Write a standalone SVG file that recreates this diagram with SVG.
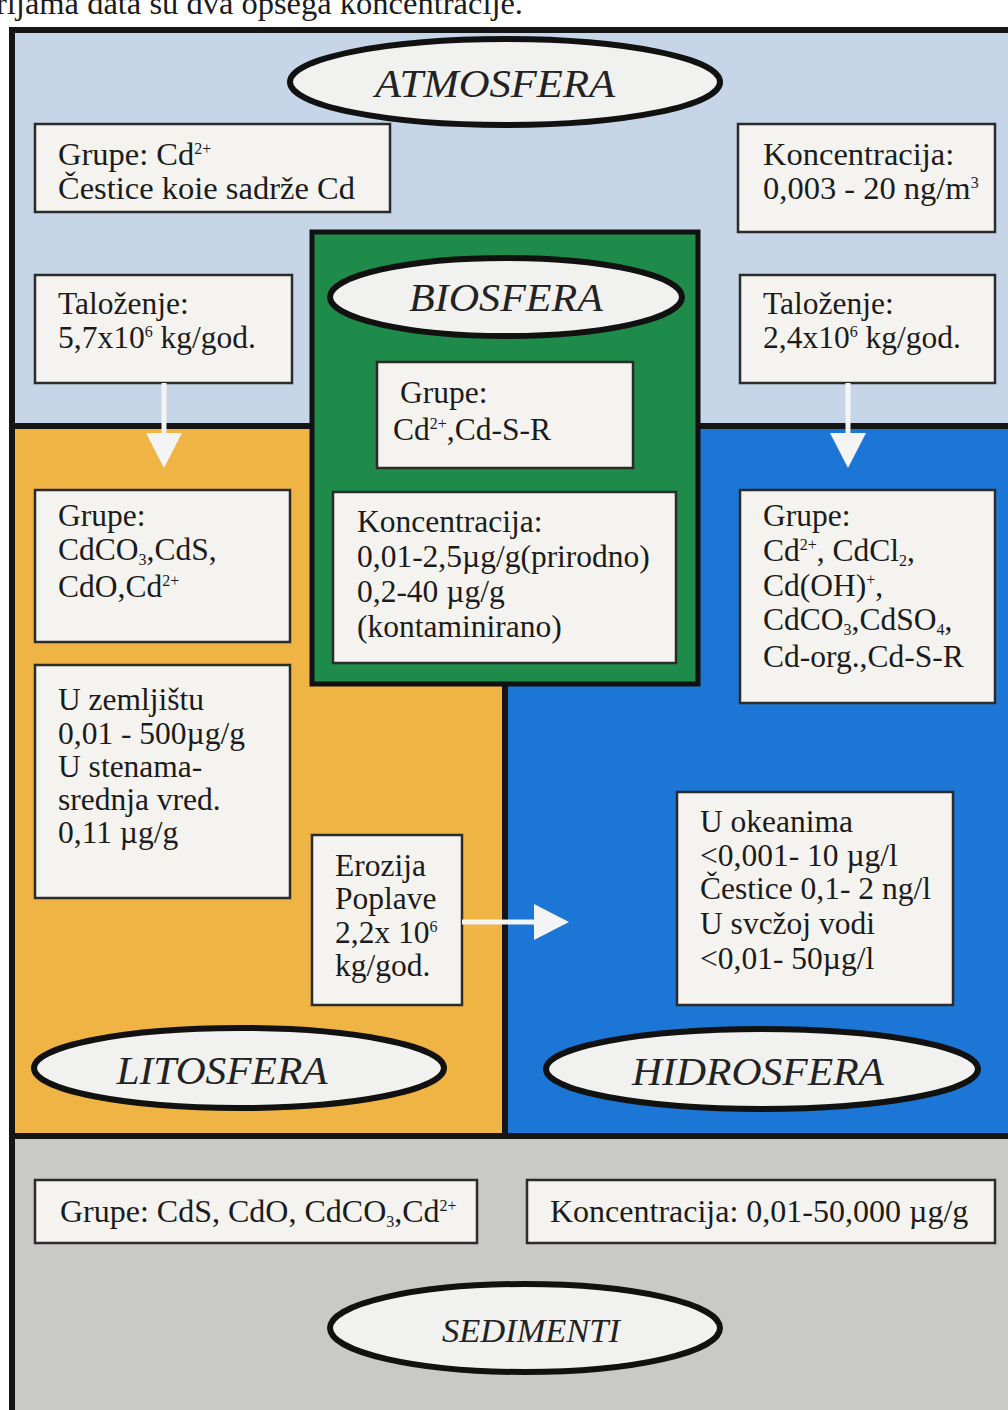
<svg xmlns="http://www.w3.org/2000/svg" width="1008" height="1410" viewBox="0 0 1008 1410">
<style>
.box{fill:#f4f3ef;stroke:#2b2b2b;stroke-width:2.5}
.t{font-family:"Liberation Serif","Times New Roman",serif;font-size:31.5px;fill:#1b1b1b}
.tb{font-size:32.5px}
.ts{font-family:"Liberation Serif","Times New Roman",serif;font-size:32px;fill:#1b1b1b}
.sup{font-size:16px}
.sub{font-size:16px}
.ell{fill:#f1f1ef;stroke:#111;stroke-width:6}
.lbl{font-family:"Liberation Serif","Times New Roman",serif;font-style:italic;font-size:40px;fill:#222;text-anchor:middle}
.frame{fill:none;stroke:#151515;stroke-width:6}
.arr{stroke:#f4f4f4;stroke-width:5;fill:none}
.head{fill:#f4f4f4}
</style>
<rect width="1008" height="1410" fill="#ffffff"/>
<text class="t" x="-4" y="14" style="font-size:32.5px">rijama data su dva opsega koncentracije.</text>

<g id="regions">
<rect x="12" y="30" width="1000" height="396" fill="#c6d5e8"/>
<rect x="12" y="426" width="493" height="710" fill="#efb444"/>
<rect x="505" y="426" width="507" height="710" fill="#1b76d6"/>
<rect x="12" y="1136" width="1000" height="280" fill="#c9c9c8"/>
<line x1="12" y1="426" x2="1012" y2="426" class="frame" stroke-width="5"/>
<line x1="505" y1="426" x2="505" y2="1136" class="frame" stroke-width="5"/>
<line x1="12" y1="1136" x2="1012" y2="1136" class="frame" stroke-width="5"/>
<rect x="12" y="30" width="1000" height="1400" class="frame"/>
</g>

<g id="biosfera">
<rect x="312" y="232" width="386" height="452" fill="#1e8b4b" stroke="#111" stroke-width="5"/>
<ellipse cx="506" cy="297" rx="176" ry="39" class="ell"/>
<text class="lbl" x="506" y="311" textLength="194" lengthAdjust="spacingAndGlyphs">BIOSFERA</text>
</g>

<g id="atmosfera-label">
<ellipse cx="505" cy="82" rx="215" ry="43" class="ell"/>
<text class="lbl" x="495" y="97" textLength="240" lengthAdjust="spacingAndGlyphs">ATMOSFERA</text>
</g>

<g id="atm-grupe">
<rect x="35" y="124" width="355" height="88" class="box"/>
<text class="t tb" x="58" y="165">Grupe: Cd<tspan class="sup" dy="-11">2+</tspan></text>
<text class="t tb" x="58" y="199">Čestice koie sadrže Cd</text>
</g>

<g id="atm-konc">
<rect x="738" y="124" width="257" height="108" class="box"/>
<text class="t tb" x="763" y="165">Koncentracija:</text>
<text class="t tb" x="763" y="199">0,003 - 20 ng/m<tspan class="sup" dy="-11">3</tspan></text>
</g>

<g id="talozenje-left">
<rect x="35" y="275" width="257" height="108" class="box"/>
<text class="t" x="58" y="314">Taloženje:</text>
<text class="t" x="58" y="348">5,7x10<tspan class="sup" dy="-11">6</tspan><tspan dy="11"> kg/god.</tspan></text>
</g>

<g id="talozenje-right">
<rect x="740" y="275" width="255" height="108" class="box"/>
<text class="t" x="763" y="314">Taloženje:</text>
<text class="t" x="763" y="348">2,4x10<tspan class="sup" dy="-11">6</tspan><tspan dy="11"> kg/god.</tspan></text>
</g>

<g id="bio-grupe">
<rect x="377" y="362" width="256" height="106" class="box"/>
<text class="t" x="400" y="403">Grupe:</text>
<text class="t" x="393" y="440">Cd<tspan class="sup" dy="-11">2+</tspan><tspan dy="11">,Cd-S-R</tspan></text>
</g>

<g id="bio-konc">
<rect x="333" y="492" width="343" height="171" class="box"/>
<text class="t" x="357" y="532">Koncentracija:</text>
<text class="t" x="357" y="567">0,01-2,5µg/g(prirodno)</text>
<text class="t" x="357" y="602">0,2-40 µg/g</text>
<text class="t" x="357" y="637">(kontaminirano)</text>
</g>

<g id="lito-grupe">
<rect x="35" y="490" width="255" height="152" class="box"/>
<text class="t" x="58" y="526">Grupe:</text>
<text class="t" x="58" y="560">CdCO<tspan class="sub" dy="5">3</tspan><tspan dy="-5">,CdS,</tspan></text>
<text class="t" x="58" y="597">CdO,Cd<tspan class="sup" dy="-11">2+</tspan></text>
</g>

<g id="lito-konc">
<rect x="35" y="665" width="255" height="233" class="box"/>
<text class="t" x="58" y="710">U zemljištu</text>
<text class="t" x="58" y="744">0,01 -  500µg/g</text>
<text class="t" x="58" y="777">U stenama-</text>
<text class="t" x="58" y="810">srednja vred.</text>
<text class="t" x="58" y="843">0,11 µg/g</text>
</g>

<g id="erozija">
<rect x="312" y="835" width="150" height="170" class="box"/>
<text class="t" x="335" y="876">Erozija</text>
<text class="t" x="335" y="909">Poplave</text>
<text class="t" x="335" y="943">2,2x 10<tspan class="sup" dy="-11">6</tspan></text>
<text class="t" x="335" y="976">kg/god.</text>
</g>

<g id="hidro-grupe">
<rect x="740" y="490" width="255" height="213" class="box"/>
<text class="t" x="763" y="526">Grupe:</text>
<text class="t" x="763" y="561">Cd<tspan class="sup" dy="-11">2+</tspan><tspan dy="11">, CdCl</tspan><tspan class="sub" dy="5">2</tspan><tspan dy="-5">,</tspan></text>
<text class="t" x="763" y="596">Cd(OH)<tspan class="sup" dy="-11">+</tspan><tspan dy="11">,</tspan></text>
<text class="t" x="763" y="630">CdCO<tspan class="sub" dy="5">3</tspan><tspan dy="-5">,CdSO</tspan><tspan class="sub" dy="5">4</tspan><tspan dy="-5">,</tspan></text>
<text class="t" x="763" y="667">Cd-org.,Cd-S-R</text>
</g>

<g id="hidro-konc">
<rect x="677" y="792" width="276" height="213" class="box"/>
<text class="t" x="700" y="832">U okeanima</text>
<text class="t" x="700" y="866">&lt;0,001- 10 µg/l</text>
<text class="t" x="700" y="899">Čestice 0,1- 2 ng/l</text>
<text class="t" x="700" y="934">U svcžoj vodi</text>
<text class="t" x="700" y="969">&lt;0,01- 50µg/l</text>
</g>

<g id="litosfera-label">
<ellipse cx="239" cy="1068" rx="205" ry="40" class="ell"/>
<text class="lbl" x="222" y="1084" textLength="211" lengthAdjust="spacingAndGlyphs">LITOSFERA</text>
</g>

<g id="hidrosfera-label">
<ellipse cx="762" cy="1069" rx="216" ry="40" class="ell"/>
<text class="lbl" x="758" y="1085" textLength="252" lengthAdjust="spacingAndGlyphs">HIDROSFERA</text>
</g>

<g id="sed-grupe">
<rect x="35" y="1180" width="442" height="63" class="box"/>
<text class="ts" x="60" y="1222">Grupe: CdS, CdO, CdCO<tspan class="sub" dy="5">3</tspan><tspan dy="-5">,Cd</tspan><tspan class="sup" dy="-11">2+</tspan></text>
</g>

<g id="sed-konc">
<rect x="527" y="1180" width="468" height="63" class="box"/>
<text class="ts" x="550" y="1222">Koncentracija:  0,01-50,000 µg/g</text>
</g>

<g id="sedimenti-label">
<ellipse cx="525" cy="1328" rx="195" ry="44" class="ell"/>
<text class="lbl" x="531" y="1342" style="font-size:34px" textLength="178" lengthAdjust="spacingAndGlyphs">SEDIMENTI</text>
</g>

<g id="connectors">
<line x1="164" y1="383" x2="164" y2="436" class="arr"/>
<polygon points="146,433 182,433 164,468" class="head"/>
<line x1="848" y1="383" x2="848" y2="436" class="arr"/>
<polygon points="830,433 866,433 848,468" class="head"/>
<line x1="462" y1="922" x2="537" y2="922" class="arr"/>
<polygon points="534,904 534,940 569,922" class="head"/>
</g>
</svg>
